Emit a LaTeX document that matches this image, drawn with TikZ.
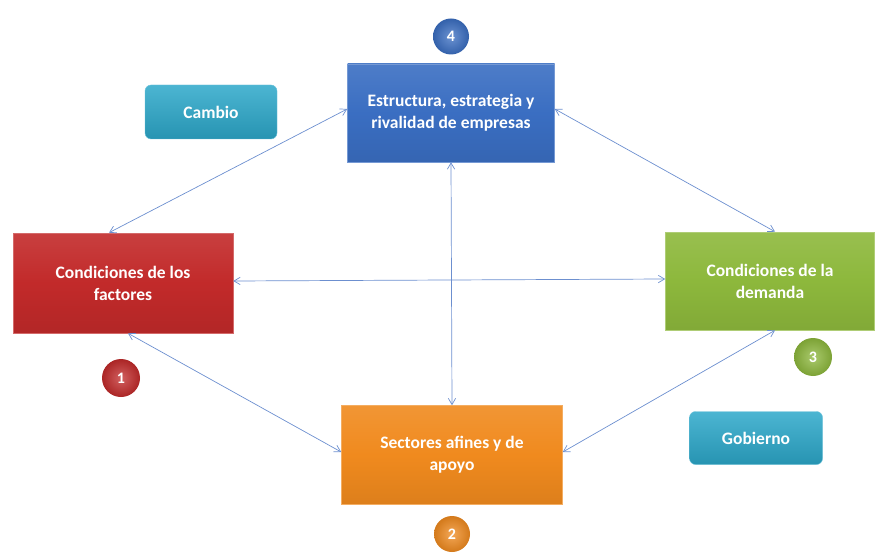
\documentclass[tikz,border=0pt]{standalone}
\usepackage{fontspec}
\setmainfont{Carlito}
\usepackage{tikz}
\usetikzlibrary{arrows.meta,positioning}

\definecolor{estrBlue}{HTML}{3A6EC2}
\definecolor{factRed}{HTML}{C22A2A}
\definecolor{demGreen}{HTML}{8DB83C}
\definecolor{secOrange}{HTML}{F08A1E}
\definecolor{extTeal}{HTML}{2CA8CA}
\definecolor{linkBlue}{HTML}{6C8FCF}

\begin{document}
\begin{tikzpicture}[
  x=1pt, y=-1pt,
  node distance=9pt,
  box/.style={draw=#1!70!white, line width=0.6pt, align=center, minimum width=210pt, minimum height=98pt,
    top color=#1!90!white, bottom color=#1!92!black, middle color=#1,
    text=white, font=\bfseries\fontsize{17.5}{22}\selectfont},
  extbox/.style={draw=extTeal!70!white, rounded corners=6pt, align=center, minimum width=132pt, minimum height=54pt,
    top color=extTeal!85!white, bottom color=extTeal!88!black,
    text=white, font=\bfseries\fontsize{17.5}{20}\selectfont},
  badge/.style={circle, minimum size=38pt, inner sep=0pt, shading=radial, inner color=#1!75!white, outer color=#1!88!black,
    text=white, font=\bfseries\fontsize{16}{18}\selectfont},
  link/.style={{Straight Barb[length=2.2mm,width=2.6mm]}-{Straight Barb[length=2.2mm,width=2.6mm]}, draw=linkBlue, line width=0.7pt}
]
\useasboundingbox (0,0) rectangle (875,556);
% main boxes
\node[box=estrBlue, minimum width=207pt] (estr) at (451,113) {Estructura, estrategia y\\rivalidad de empresas};
\node[box=factRed, minimum width=220pt, minimum height=100pt] (fact) at (123,283) {Condiciones de los\\factores};
\node[box=demGreen, minimum width=209pt] (dem) at (770,281) {Condiciones de la\\demanda};
\node[box=secOrange, minimum width=221pt, minimum height=99pt] (sect) at (452,455) {Sectores afines y de\\apoyo};
% external factors
\node[extbox] (cambio) at (211,112) {Cambio};
\node[extbox, minimum width=133pt, minimum height=53pt] (gob) at (756,438) {Gobierno};
% numbers
\node[badge=estrBlue, minimum size=36pt, above=of estr] (n4) {4};
\node[badge=factRed] (n1) at (121,378) {1};
\node[badge=demGreen] (n3) at (813,357) {3};
\node[badge=secOrange, minimum size=36pt, below=11pt of sect] (n2) {2};
% links
\draw[link] ([yshift=4pt]estr.west) -- ([xshift=-14pt]fact.north);
\draw[link] ([yshift=4pt]estr.east) -- ([xshift=5pt]dem.north);
\draw[link] ([yshift=2pt]fact.east) -- ([yshift=2pt]dem.west);
\draw[link] (estr.south) -- (sect.north);
\draw[link] ([xshift=5pt]fact.south) -- ([yshift=3pt]sect.west);
\draw[link] ([yshift=3pt]sect.east) -- ([xshift=5pt]dem.south);
\end{tikzpicture}
\end{document}
